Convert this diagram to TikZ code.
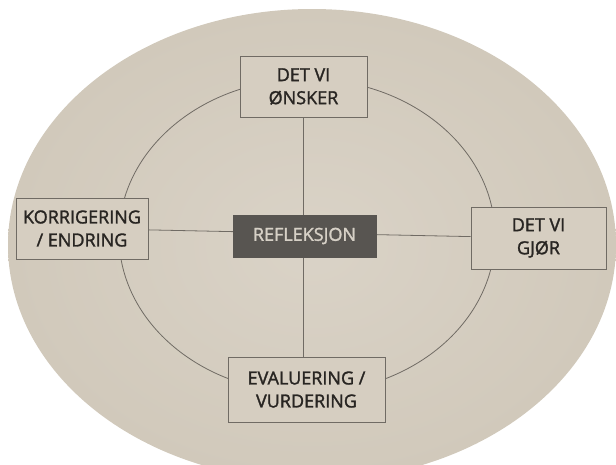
\documentclass[tikz,border=0pt]{standalone}
\usepackage{fontspec}
\setmainfont{Open Sans}[FakeBold=1.6]
\usetikzlibrary{backgrounds}
\definecolor{paper}{RGB}{214,206,193}
\definecolor{paperlight}{RGB}{218,211,199}
\definecolor{paperdark}{RGB}{209,201,187}
\definecolor{ink}{RGB}{40,37,34}
\definecolor{rule}{RGB}{112,107,100}
\definecolor{darkbox}{RGB}{88,85,81}
\definecolor{pale}{RGB}{214,208,198}

\begin{document}
\begin{tikzpicture}[x=1pt, y=-1pt,
    box/.style={draw=rule, line width=0.8pt, fill=paper, text=ink, align=center,
        font=\fontsize{18}{23}\selectfont, inner sep=0pt},
    link/.style={draw=rule, line width=0.8pt}]
    % Frame
    \useasboundingbox (0,0) rectangle (616,464);
    % Boxes
    \node [box, minimum width=127pt, minimum height=61pt] (wish) at (303.5,86.5) {DET VI\\ØNSKER};
    \node [box, minimum width=132pt, minimum height=61pt] (correct) at (82,228.5) {KORRIGERING\\/ ENDRING};
    \node [box, minimum width=135pt, minimum height=62pt] (do) at (538.5,238) {DET VI\\GJØR};
    \node [box, minimum width=157pt, minimum height=65pt] (eval) at (306.5,389.5) {EVALUERING /\\VURDERING};
    \node [box, fill=darkbox, draw=darkbox, text=pale, minimum width=143pt, minimum height=42pt] (refl) at (304.5,236) {REFLEKSJON};
    % Page, circle and lines
    \begin{scope}[on background layer]
        \clip (0,0) rectangle (616,464);
        \shade [inner color=paperlight, outer color=paperdark] (312,245) ellipse [x radius=304, y radius=236];
        \draw [link] (307,236) ellipse [x radius=188, y radius=157];
        \draw [link] (wish) -- (wish |- eval.north);
        \draw [link] (correct) -- (do);
    \end{scope}
\end{tikzpicture}
\end{document}
